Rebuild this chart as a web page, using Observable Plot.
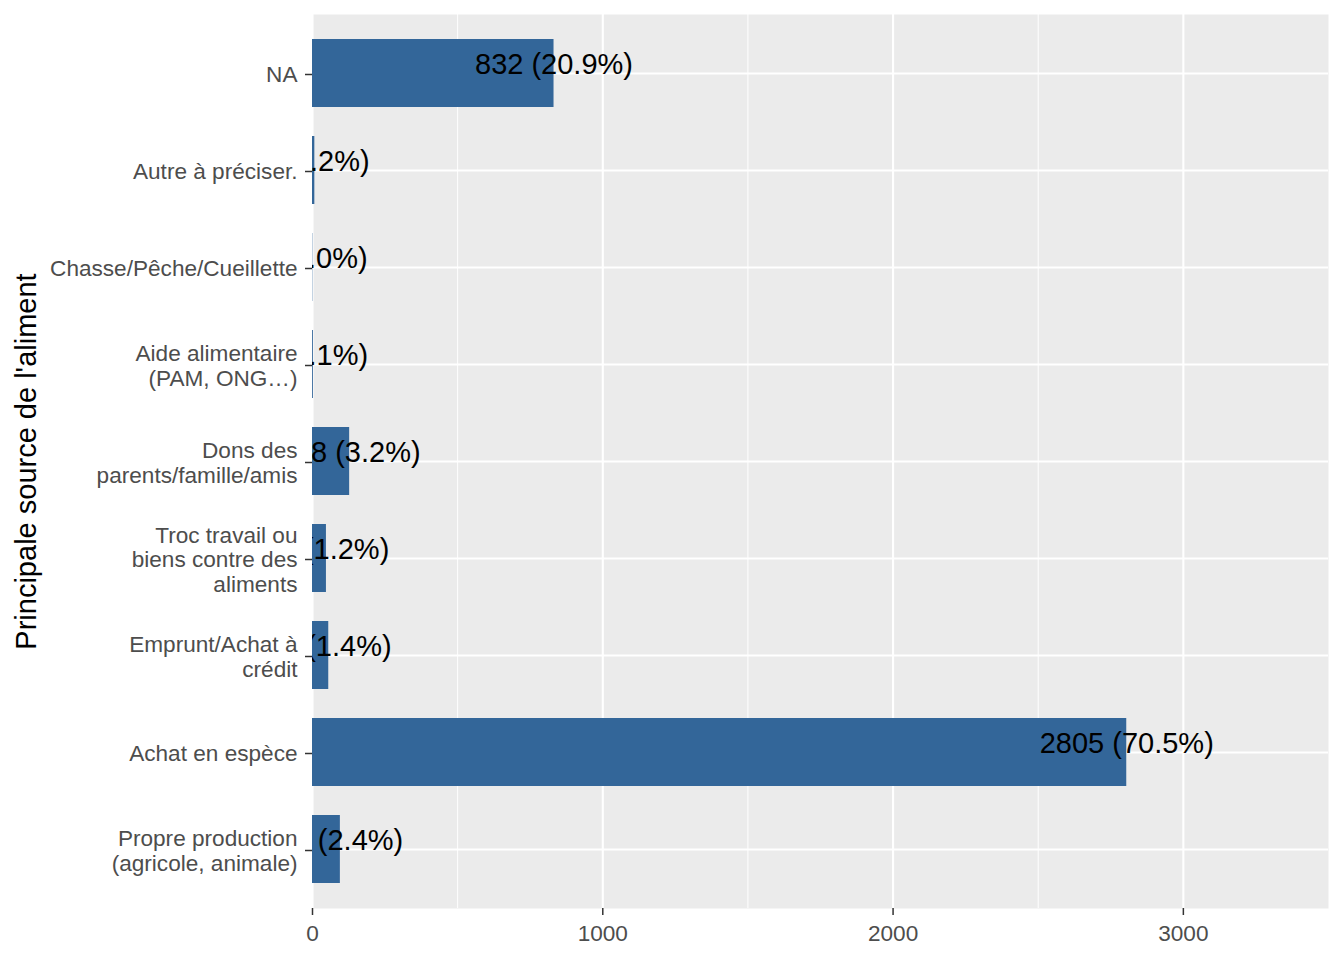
<!DOCTYPE html>
<html>
<head>
<meta charset="utf-8">
<script src="https://cdn.jsdelivr.net/npm/d3@7"></script>
<script src="https://cdn.jsdelivr.net/npm/@observablehq/plot@0.6"></script>
<style>
  html, body { margin: 0; padding: 0; background: #ffffff; }
  #chart { width: 1344px; height: 960px; }
</style>
</head>
<body>
<div id="chart"></div>
<script>
// Categories, top to bottom as drawn
const categories = [
  "NA",
  "Autre à préciser.",
  "Chasse/Pêche/Cueillette",
  "Aide alimentaire (PAM, ONG…)",
  "Dons des parents/famille/amis",
  "Troc travail ou biens contre des aliments",
  "Emprunt/Achat à crédit",
  "Achat en espèce",
  "Propre production (agricole, animale)"
];
// Tick labels (wrapped as in the reference)
const tickLabels = [
  "NA",
  "Autre à préciser.",
  "Chasse/Pêche/Cueillette",
  "Aide alimentaire\n(PAM, ONG…)",
  "Dons des\nparents/famille/amis",
  "Troc travail ou\nbiens contre des\naliments",
  "Emprunt/Achat à\ncrédit",
  "Achat en espèce",
  "Propre production\n(agricole, animale)"
];
const counts = [832, 8, 1, 3, 128, 48, 56, 2805, 96];
const percents = ["20.9%", "0.2%", "0.0%", "0.1%", "3.2%", "1.2%", "1.4%", "70.5%", "2.4%"];
const xMajor = [0, 1000, 2000, 3000];
const xMinor = [500, 1500, 2500];
const yTitle = "Principale source de l'aliment";

const data = categories.map((c, i) => ({cat: c, n: counts[i], label: `${counts[i]} (${percents[i]})`}));
const tickMap = new Map(categories.map((c, i) => [c, tickLabels[i]]));

const chart = Plot.plot({
  width: 1344,
  height: 960,
  marginLeft: 312,
  marginRight: 16,
  marginTop: 14,
  marginBottom: 52,
  style: {fontFamily: "'Liberation Sans', Arial, sans-serif", background: "#ffffff"},
  x: {domain: [0, 3500]},
  y: {domain: categories, paddingInner: 0.3, paddingOuter: 0.25},
  marks: [
    Plot.frame({fill: "#EBEBEB", stroke: null}),
    Plot.gridX(xMinor, {stroke: "#ffffff", strokeOpacity: 1, strokeWidth: 1}),
    Plot.gridX(xMajor, {stroke: "#ffffff", strokeOpacity: 1, strokeWidth: 2.1}),
    Plot.gridY(categories, {stroke: "#ffffff", strokeOpacity: 1, strokeWidth: 2.1}),
    Plot.barX(data, {x: "n", y: "cat", fill: "#336699"}),
    Plot.text(data, {x: "n", y: "cat", text: "label", fontSize: 29, fill: "#000000", dy: -9, clip: true}),
    Plot.axisX({ticks: xMajor, tickSize: 7, tickPadding: 9, fontSize: 22.6, fill: "#4D4D4D", stroke: "#333333", strokeWidth: 1.5, label: null, tickFormat: d => String(d)}),
    Plot.axisY({tickSize: 7, tickPadding: 8, fontSize: 22.6, lineHeight: 1.1, dy: 1, fill: "#4D4D4D", stroke: "#333333", strokeWidth: 1.5, label: null, tickFormat: d => tickMap.get(d)}),
    Plot.axisY({ticks: [], tickSize: 0, fontSize: 29, fill: "#000000", label: yTitle, labelAnchor: "center", labelOffset: 297})
  ]
});
document.getElementById("chart").appendChild(chart);
</script>
</body>
</html>
